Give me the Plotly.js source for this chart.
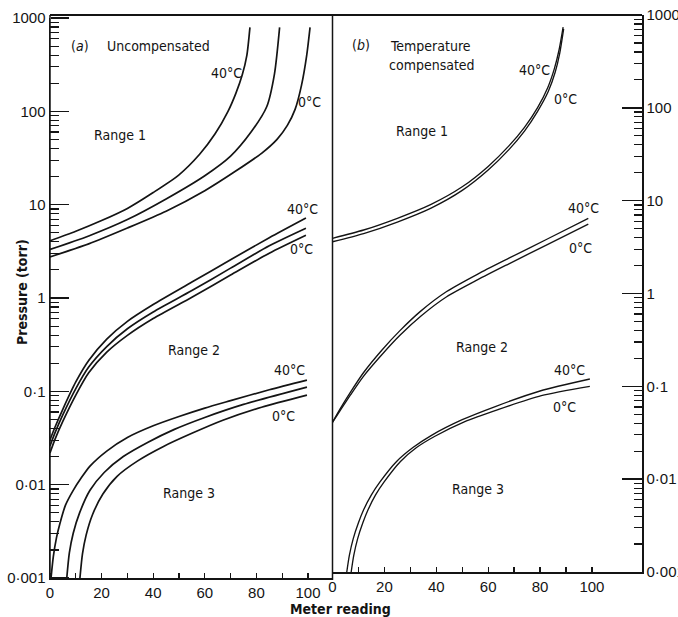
<!DOCTYPE html>
<html>
<head>
<meta charset="utf-8">
<script src="https://cdn.plot.ly/plotly-3.0.1.min.js"></script>
<style>
html,body{margin:0;padding:0;background:#fff;}
#chart{position:absolute;left:0;top:0;width:678px;height:617px;}
</style>
</head>
<body>
<div id="chart"></div>
<script>
// ---------------- DATA ----------------
// Panel (a) Uncompensated
const aR1_40_x = [0, 10, 20, 30, 40, 50, 58, 64, 69, 72, 74.5, 76.3, 77.5];
const aR1_40_p = [4.10, 5.19, 6.76, 9.12, 13.5, 20.9, 34.7, 57.5, 100, 155, 245, 398, 794];
const aR1_20_x = [0, 15, 30, 45, 60, 70, 78, 84, 87, 89];
const aR1_20_p = [3.31, 4.62, 6.92, 11.5, 20.4, 33.1, 60.3, 112, 251, 794];
const aR1_0_x  = [0, 15, 30, 45, 60, 72, 82, 88, 92, 95, 97.5, 99.5, 100.8];
const aR1_0_p  = [2.75, 3.80, 5.62, 8.51, 14.1, 22.9, 35.5, 50.1, 70.8, 105, 191, 398, 794];

const aR2_40_x = [0, 2, 5, 10, 15, 22, 30, 40, 55, 70, 85, 99.2];
const aR2_40_p = [0.0302, 0.0417, 0.0646, 0.126, 0.214, 0.363, 0.562, 0.851, 1.48, 2.57, 4.42, 7.19];
const aR2_20_x = [0, 2, 5, 10, 15, 22, 30, 40, 55, 70, 85, 99.2];
const aR2_20_p = [0.0260, 0.0363, 0.0562, 0.107, 0.182, 0.302, 0.468, 0.708, 1.20, 2.09, 3.63, 5.60];
const aR2_0_x  = [0, 2, 5, 10, 15, 22, 30, 40, 55, 70, 85, 99.2];
const aR2_0_p  = [0.0219, 0.0309, 0.0479, 0.0912, 0.158, 0.263, 0.398, 0.603, 1.02, 1.76, 3.02, 4.70];

const aR3_40_x = [0.4, 1.3, 2.5, 3.9, 6, 9, 12, 15.5, 22, 30, 40, 50, 60, 70, 85, 99.6];
const aR3_40_p = [0.001, 0.0017, 0.00269, 0.00389, 0.00603, 0.0087, 0.0117, 0.0158, 0.0229, 0.032, 0.0427, 0.0537, 0.0661, 0.0794, 0.104, 0.132];
const aR3_20_x = [6.5, 7.5, 9, 11.5, 15.5, 21, 28.4, 38, 48, 60, 75, 99.6];
const aR3_20_p = [0.001, 0.00186, 0.00302, 0.00501, 0.0087, 0.0135, 0.020, 0.0285, 0.0389, 0.0525, 0.0724, 0.111];
const aR3_0_x  = [11.6, 12.6, 14, 16.5, 20.5, 26, 34, 44, 55, 67, 82, 99.6];
const aR3_0_p  = [0.001, 0.00182, 0.00288, 0.00479, 0.00794, 0.0123, 0.018, 0.0257, 0.0355, 0.049, 0.0676, 0.0912];

// Panel (b) Temperature compensated
const bR1_40_x = [0, 12, 25, 38, 50, 60, 68, 74, 79, 83, 85.5, 87.3, 88.9];
const bR1_40_p = [3.93, 4.83, 6.46, 9.12, 14.1, 23.4, 38.9, 61.7, 100, 166, 263, 417, 741];
const bR1_0_x  = [0, 12, 25, 38, 50, 60, 68, 74, 79, 83.2, 85.8, 87.6, 89.1];
const bR1_0_p  = [3.61, 4.42, 5.89, 8.32, 12.9, 21.4, 35.5, 56.2, 91.2, 151, 240, 389, 708];

const bR2_40_x = [0, 3, 7, 12, 19, 26, 34, 44, 56, 68, 83, 98.6];
const bR2_40_p = [0.041, 0.0575, 0.0871, 0.141, 0.245, 0.398, 0.646, 1.05, 1.62, 2.40, 3.89, 6.46];
const bR2_0_x  = [0, 3, 7, 12, 19, 26, 34, 44, 56, 68, 83, 98.6];
const bR2_0_p  = [0.041, 0.055, 0.0813, 0.129, 0.219, 0.355, 0.569, 0.923, 1.41, 2.09, 3.39, 5.60];

const bR3_40_x = [5.5, 6.5, 8, 10, 12, 15, 18.3, 24.7, 31, 38, 50, 63, 80, 99.2];
const bR3_40_p = [0.001, 0.00151, 0.00229, 0.00339, 0.00468, 0.00676, 0.00933, 0.0155, 0.0219, 0.0295, 0.0437, 0.061, 0.0891, 0.12];
const bR3_0_x  = [7.2, 8.2, 9.7, 11.7, 13.7, 16.6, 19.9, 26.2, 32.4, 39.3, 51, 63.8, 80.5, 99.2];
const bR3_0_p  = [0.001, 0.00151, 0.00229, 0.00339, 0.00468, 0.00676, 0.00933, 0.0155, 0.0219, 0.0288, 0.0417, 0.0562, 0.0794, 0.10];

// Tick labels
const yTickVals = [0.001, 0.01, 0.1, 1, 10, 100, 1000];
const yTickText = ['0·001', '0·01', '0·1', '1', '10', '100', '1000'];
const xTickVals = [0, 10, 20, 30, 40, 50, 60, 70, 80, 90, 100];
const xTickText = ['0', '', '20', '', '40', '', '60', '', '80', '', '100'];

// ---------------- STYLE ----------------
const INK = '#141414';
const FONT = '"DejaVu Sans Condensed", "Liberation Sans Narrow", sans-serif';
const TFONT = '"Liberation Sans", Arial, sans-serif';

function curve(x, y, ax) {
  return {
    x: x, y: y, type: 'scatter', mode: 'lines',
    xaxis: ax === 2 ? 'x2' : 'x', yaxis: ax === 2 ? 'y2' : 'y',
    line: {color: INK, width: ax === 2 ? 1.35 : 1.7, shape: 'spline', smoothing: 0.7},
    hoverinfo: 'skip', showlegend: false
  };
}
// empty traces that only register the extra tick-mark axes
function holder(xa, ya) {
  return {x: [], y: [], type: 'scatter', mode: 'lines', xaxis: xa, yaxis: ya, hoverinfo: 'skip', showlegend: false};
}

const traces = [
  curve(aR1_40_x, aR1_40_p, 1), curve(aR1_20_x, aR1_20_p, 1), curve(aR1_0_x, aR1_0_p, 1),
  curve(aR2_40_x, aR2_40_p, 1), curve(aR2_20_x, aR2_20_p, 1), curve(aR2_0_x, aR2_0_p, 1),
  curve(aR3_40_x, aR3_40_p, 1), curve(aR3_20_x, aR3_20_p, 1), curve(aR3_0_x, aR3_0_p, 1),
  curve(bR1_40_x, bR1_40_p, 2), curve(bR1_0_x, bR1_0_p, 2),
  curve(bR2_40_x, bR2_40_p, 2), curve(bR2_0_x, bR2_0_p, 2),
  curve(bR3_40_x, bR3_40_p, 2), curve(bR3_0_x, bR3_0_p, 2),
  holder('x', 'y3'), holder('x3', 'y'), holder('x4', 'y2')
];

const L = 50, R = 36, T = 15, B = 39, PW = 678 - L - R, PH = 617 - T - B;
const PX = px => (px - L) / PW;
const PY = py => (617 - B - py) / PH;
const SPLIT = PX(332.5);

function yAxis(extra) {
  return Object.assign({
    type: 'log', range: [-3, 3], showgrid: false, zeroline: false,
    showline: true, linecolor: INK, linewidth: 1.5, layer: 'above traces',
    tickmode: 'array', tickvals: yTickVals, ticktext: yTickText,
    ticks: 'inside', ticklen: 18, tickwidth: 1.4, tickcolor: INK,
    tickfont: {family: TFONT, size: 15, color: INK},
    minor: {dtick: 'D1', ticks: 'inside', ticklen: 8, tickwidth: 1.2, tickcolor: INK, showgrid: false}
  }, extra);
}
function xAxis(extra) {
  return Object.assign({
    showgrid: false, zeroline: false, showline: true, linecolor: INK, linewidth: 1.5, layer: 'above traces',
    tickmode: 'array', tickvals: xTickVals, ticktext: xTickText,
    ticks: 'inside', ticklen: 5, tickwidth: 1.2, tickcolor: INK,
    tickfont: {family: TFONT, size: 15, color: INK}
  }, extra);
}

function lab(text, px, py, opts) {
  return Object.assign({
    text: text, x: PX(px), y: PY(py), xref: 'paper', yref: 'paper',
    showarrow: false, xanchor: 'center', yanchor: 'middle',
    font: {family: FONT, size: 14, color: INK}
  }, opts || {});
}

const annotations = [
  lab('(<i>a</i>)', 80, 46),
  lab('Uncompensated', 158, 46),
  lab('Range 1', 120, 135),
  lab('40°C', 226, 73),
  lab('0°C', 309, 102),
  lab('40°C', 302, 209),
  lab('0°C', 301, 249),
  lab('Range 2', 194, 350),
  lab('40°C', 289, 370),
  lab('0°C', 283, 416),
  lab('Range 3', 189, 493),
  lab('(<i>b</i>)', 361, 45),
  lab('Temperature', 430, 46),
  lab('compensated', 432, 65),
  lab('Range 1', 422, 131),
  lab('40°C', 534, 70),
  lab('0°C', 565, 99),
  lab('40°C', 583, 208),
  lab('0°C', 580, 248),
  lab('Range 2', 482, 347),
  lab('40°C', 569, 370),
  lab('0°C', 564, 407),
  lab('Range 3', 478, 489),
  lab('<b>Pressure (torr)</b>', 22, 292, {textangle: -90}),
  lab('<b>Meter reading</b>', 340, 609)
];

const shapes = [
  {type: 'line', xref: 'paper', yref: 'paper', x0: 0, x1: 1, y0: 1, y1: 1, line: {color: INK, width: 1.8}},
  {type: 'line', xref: 'paper', yref: 'paper', x0: 0, x1: 0, y0: PY(578), y1: 1, line: {color: INK, width: 1.5}},
  {type: 'line', xref: 'paper', yref: 'paper', x0: SPLIT, x1: SPLIT, y0: PY(580), y1: 1, line: {color: INK, width: 1.5}}
];

const layout = {
  width: 678, height: 617,
  margin: {l: L, r: R, t: T, b: B, pad: 0},
  paper_bgcolor: '#fff', plot_bgcolor: 'rgba(0,0,0,0)',
  showlegend: false,
  xaxis: xAxis({domain: [0, SPLIT], range: [0, 109.5], anchor: 'y'}),
  yaxis: yAxis({domain: [0, PY(18)], anchor: 'x', side: 'left'}),
  xaxis2: xAxis({domain: [SPLIT, 1], range: [0, 119.3], anchor: 'y2'}),
  yaxis2: yAxis({domain: [PY(572), 1], anchor: 'x2', side: 'right', ticklen: 20}),
  // extra tick-only axes: outside ticks of an opposite-side axis point into the panel
  yaxis3: {
    type: 'log', range: [-3, 3], overlaying: 'y', anchor: 'free', position: 0, side: 'right',
    showgrid: false, zeroline: false, showline: false, showticklabels: false,
    tickmode: 'array', tickvals: yTickVals,
    ticks: 'outside', ticklen: 18, tickwidth: 1.4, tickcolor: INK,
    minor: {dtick: 'D1', ticks: 'outside', ticklen: 8, tickwidth: 1.2, tickcolor: INK, showgrid: false}
  },
  xaxis3: {
    range: [0, 109.5], overlaying: 'x', anchor: 'free', position: 0, side: 'top',
    showgrid: false, zeroline: false, showline: false, showticklabels: false,
    tickmode: 'array', tickvals: xTickVals,
    ticks: 'outside', ticklen: 5, tickwidth: 1.2, tickcolor: INK
  },
  xaxis4: {
    range: [0, 119.3], overlaying: 'x2', anchor: 'free', position: PY(572), side: 'top',
    showgrid: false, zeroline: false, showline: false, showticklabels: false,
    tickmode: 'array', tickvals: xTickVals,
    ticks: 'outside', ticklen: 5, tickwidth: 1.2, tickcolor: INK
  },
  annotations: annotations,
  shapes: shapes
};

Plotly.newPlot('chart', traces, layout, {staticPlot: true, displayModeBar: false});
</script>
</body>
</html>
